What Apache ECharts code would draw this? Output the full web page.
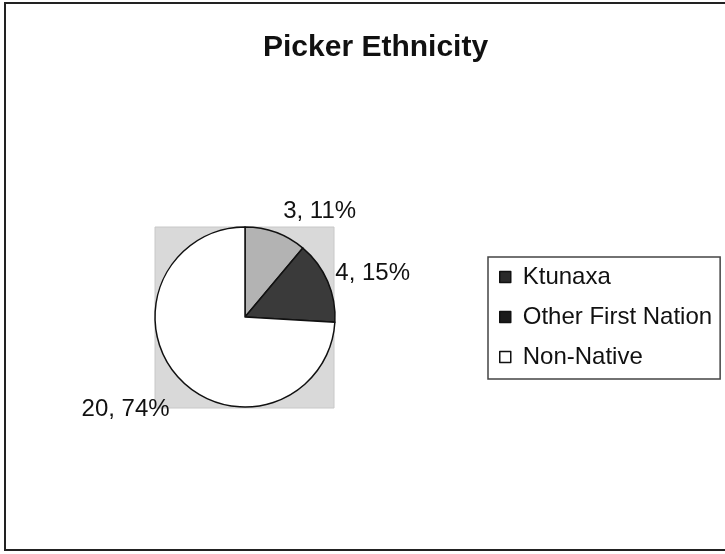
<!DOCTYPE html>
<html>
<head>
<meta charset="utf-8">
<script src="https://cdn.jsdelivr.net/npm/echarts@6/dist/echarts.min.js"></script>
<style>
  html, body { margin: 0; padding: 0; background: #fff; }
  #chart { width: 725px; height: 554px; }
</style>
</head>
<body>
<div id="chart"></div>
<script>
var categories = ['Ktunaxa', 'Other First Nation', 'Non-Native'];
var counts = [3, 4, 20];
var percents = [11, 15, 74];

var sliceColors = ['#b3b3b3', '#3a3a3a', '#ffffff'];
var legendColors = ['#2a2a2a', '#1a1a1a', '#ffffff'];
// small nudges so the data labels sit where the original put them
var labelNudge = [[1, -17], [-1, -6], [-2, 28]];

var chart = echarts.init(document.getElementById('chart'));

var pieData = categories.map(function(name, i) {
  return {
    name: name,
    value: counts[i],
    pct: percents[i],
    itemStyle: { color: sliceColors[i] }
  };
});

var option = {
  animation: false,
  title: {
    text: 'Picker Ethnicity',
    left: 258,
    top: 28,
    textStyle: {
      fontFamily: 'Liberation Sans, Arial',
      fontSize: 30,
      fontWeight: 'bold',
      color: '#111'
    }
  },
  graphic: [
    {
      type: 'rect',
      z: -10,
      shape: { x: 5, y: 3, width: 760, height: 547 },
      style: { fill: '#fff', stroke: '#222', lineWidth: 2 }
    },
    {
      type: 'rect',
      z: -5,
      shape: { x: 155, y: 227, width: 179, height: 181 },
      style: { fill: '#d9d9d9', stroke: '#c8c8c8', lineWidth: 1 }
    }
  ],
  legend: {
    orient: 'vertical',
    left: 488,
    top: 257,
    padding: [7, 8, 9, 11],
    itemGap: 14,
    itemWidth: 11,
    itemHeight: 11,
    borderColor: '#444',
    borderWidth: 1.5,
    borderRadius: 0,
    icon: 'rect',
    textStyle: {
      fontFamily: 'Liberation Sans, Arial',
      fontSize: 24,
      lineHeight: 26,
      color: '#111',
      padding: [0, 0, 0, 7]
    },
    data: categories.map(function(name, i) {
      return {
        name: name,
        itemStyle: { color: legendColors[i], borderColor: '#111', borderWidth: 1.5 }
      };
    })
  },
  series: [
    {
      name: 'Picker Ethnicity',
      type: 'pie',
      center: [245, 317],
      radius: 90,
      startAngle: 90,
      clockwise: true,
      avoidLabelOverlap: false,
      itemStyle: {
        borderColor: '#111',
        borderWidth: 1.5
      },
      emphasis: { disabled: true },
      label: {
        show: true,
        position: 'outside',
        fontFamily: 'Liberation Sans, Arial',
        fontSize: 24,
        color: '#111',
        formatter: function(p) {
          return p.value + ', ' + p.data.pct + '%';
        }
      },
      labelLine: { show: false, length: 4, length2: 0 },
      labelLayout: function(params) {
        var n = labelNudge[params.dataIndex];
        return { dx: n[0], dy: n[1] };
      },
      data: pieData
    }
  ]
};

chart.setOption(option);
</script>
</body>
</html>
